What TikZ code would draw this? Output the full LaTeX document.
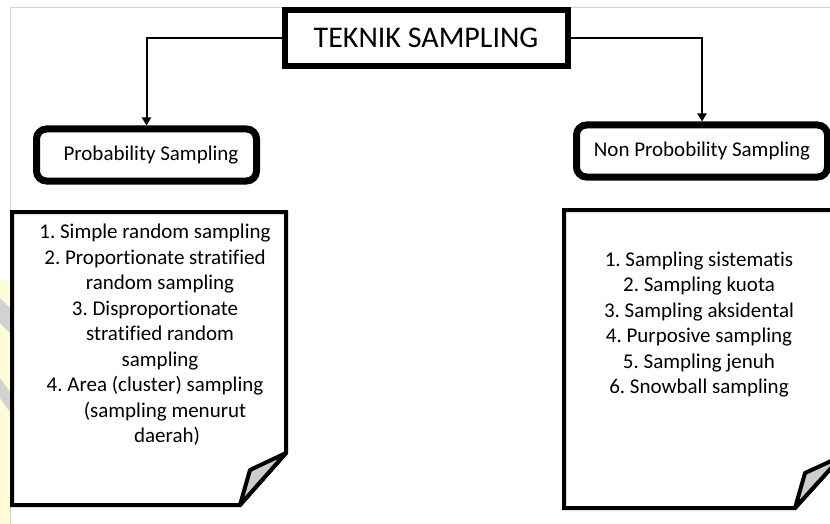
\documentclass[tikz,border=0pt]{standalone}
\usepackage{fontspec}
\setmainfont{Carlito}[Ligatures=NoCommon]
\frenchspacing
\usetikzlibrary{arrows.meta}
\tikzset{
  boxnode/.style = {align=center, inner sep=0pt, text centered},
  titlenode/.style = {boxnode, rectangle, draw=black, fill=white, line width=6pt, minimum width=283pt, minimum height=56pt, font=\fontsize{30}{34}\selectfont},
  catnode/.style = {boxnode, rectangle, rounded corners=10pt, draw=black, fill=white, line width=7pt, minimum height=52pt, font=\fontsize{21}{25}\selectfont},
  listnode/.style = {boxnode, font=\fontsize{21}{25.5}\selectfont},
  notepage/.style = {draw=black, fill=white, line width=4pt},
  notefold/.style = {draw=black, fill=gray!40, line width=4pt, line join=round},
  branch/.style = {draw=black, line width=2pt, -{Triangle[length=8pt,width=9pt]}},
  pageframe/.style = {draw=gray!35, line width=1pt},
}
\begin{document}
\begin{tikzpicture}[x=1pt, y=-1pt]
\clip (0,0) rectangle (830,524);
\fill[white] (0,0) rectangle (830,524);
\fill[yellow!15] (0,280) rectangle (10,524);
\fill[gray!35] (0,298) -- (10,308) -- (10,333) -- (0,323) -- cycle;
\fill[gray!35] (0,378) -- (10,392) -- (10,412) -- (0,398) -- cycle;
\draw[pageframe] (10.5,524) -- (10.5,8) -- (830,8);

\node [titlenode] (T) at (426,38) {TEKNIK SAMPLING};
\node [catnode, minimum width=220pt] (P) at (146.5,155) {\hspace{9pt}Probability Sampling};
\node [catnode, minimum width=251pt] (N) at (702,151) {Non Probobility Sampling};

\draw [branch] (T.west) -| (P.north);
\draw [branch] (T.east) -| (N.north);

\draw [notepage] (12,212) -- (286,212) -- (286,453) -- (240,505) -- (12,505) -- cycle;
\draw [notefold] (240,505) -- (250,470) -- (286,453) -- cycle;
\node [listnode] (PL) at (155,335) {1. Simple random sampling\\
  2. Proportionate stratified\\
  \hspace*{10pt}random sampling\\
  3. Disproportionate\\
  \hspace*{10pt}stratified random\\
  \hspace*{10pt}sampling\\
  4. Area (cluster) sampling\\
  \hspace*{20pt}(sampling menurut\\
  \hspace*{24pt}daerah)};

\draw [notepage] (564,210) -- (842,210) -- (842,456) -- (795,508) -- (564,508) -- cycle;
\draw [notefold] (795,508) -- (805,473) -- (842,456) -- cycle;
\node [listnode] (NL) at (699,324.5) {1. Sampling sistematis\\
  2. Sampling kuota\\
  3. Sampling aksidental\\
  4. Purposive sampling\\
  5. Sampling jenuh\\
  6. Snowball sampling};
\end{tikzpicture}
\end{document}
